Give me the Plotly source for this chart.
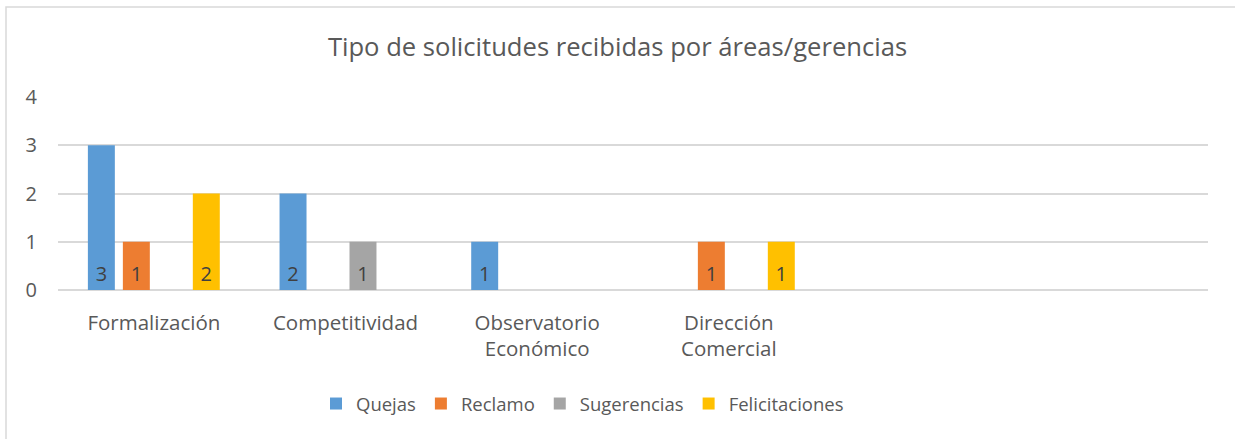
import plotly.graph_objects as go

categories = ["Formalización", "Competitividad", "Observatorio<br>Económico", "Dirección<br>Comercial", " ", "  "]
quejas = [3, 2, 1, None, None, None]
reclamo = [1, None, None, 1, None, None]
sugerencias = [None, 1, None, None, None, None]
felicitaciones = [2, None, None, 1, None, None]

series = [
    ("Quejas", quejas, "#5B9BD5"),
    ("Reclamo", reclamo, "#ED7D31"),
    ("Sugerencias", sugerencias, "#A5A5A5"),
    ("Felicitaciones", felicitaciones, "#FFC000"),
]

FONT = "Open Sans"
TXT = "#595959"

fig = go.Figure()
for name, vals, col in series:
    xs = [c for c, v in zip(categories, vals) if v is not None]
    ys = [v for v in vals if v is not None]
    fig.add_trace(go.Bar(
        name=name, x=xs, y=ys, marker=dict(color=col, line=dict(width=0)),
        text=[str(v) for v in ys],
        textposition="inside", insidetextanchor="start",
        textfont=dict(family=FONT, size=20, color="#404040"),
        cliponaxis=False, hoverinfo="skip",
    ))

W, H = 1235, 439
L, R, T, B = 58, 27, 97, 149
pw, ph = W - L - R, H - T - B
def px(x):
    return (x - L) / pw
def py(y):
    return (H - B - y) / ph

fig.update_layout(
    width=W, height=H,
    margin=dict(l=L, r=R, t=T, b=B, autoexpand=False),
    paper_bgcolor="white", plot_bgcolor="white",
    font=dict(family=FONT, color=TXT, size=19),
    barmode="group", bargap=0.27, bargroupgap=0.229,
    title=dict(text="Tipo de solicitudes recibidas por áreas/gerencias",
               x=0.5, xanchor="center", y=1 - 47 / H, yanchor="middle",
               font=dict(family=FONT, size=25.6, color=TXT)),
    showlegend=True,
    legend=dict(orientation="h", x=px(582.5), xanchor="center",
                y=py(404), yanchor="middle", font=dict(family=FONT, size=18.5, color=TXT),
                traceorder="normal"),
    xaxis=dict(showgrid=False, showline=False, ticks="", ticklabelstandoff=18, tickangle=0,
               categoryorder="array", categoryarray=categories, range=[-0.5, len(categories) - 0.5],
               tickfont=dict(family=FONT, size=20.5, color=TXT)),
    yaxis=dict(range=[0, 4], dtick=1, showgrid=True, gridcolor="#D9D9D9", gridwidth=1.5,
               zeroline=True, zerolinecolor="#D9D9D9", zerolinewidth=1.5, showline=False,
               ticks="", ticklabelstandoff=20,
               tickfont=dict(family=FONT, size=20, color=TXT)),
    shapes=[dict(type="rect", xref="paper", yref="paper",
                 x0=px(6), x1=px(W + 10), y0=py(7), y1=py(H + 10),
                 line=dict(color="#D9D9D9", width=1.5), fillcolor="rgba(0,0,0,0)", layer="below")],
)

fig.write_html("out.html", config={"displayModeBar": False},
               post_script="document.body.style.margin='0';")
